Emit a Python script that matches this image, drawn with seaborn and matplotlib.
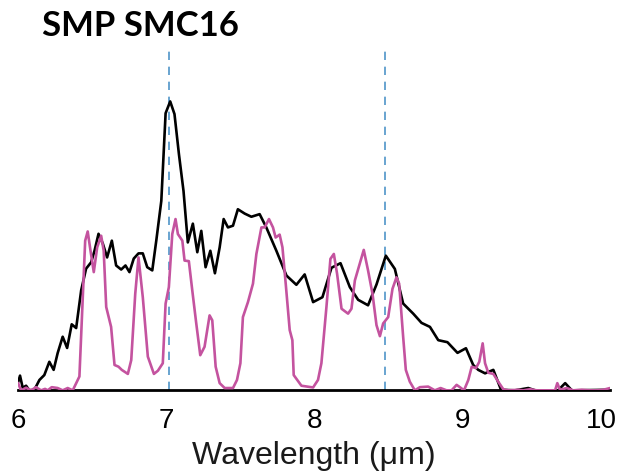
import numpy as np
import pandas as pd
import matplotlib
matplotlib.use("Agg")
import matplotlib.pyplot as plt
import matplotlib.transforms as mtransforms
import seaborn as sns

# observed spectrum (black)
obs_wl = [6.000, 6.014, 6.032, 6.055, 6.077, 6.111, 6.145, 6.178, 6.212, 6.241,
          6.268, 6.302, 6.332, 6.363, 6.393, 6.427, 6.460, 6.494, 6.517, 6.544,
          6.573, 6.602, 6.634, 6.663, 6.697, 6.726, 6.753, 6.782, 6.814, 6.843,
          6.873, 6.907, 6.934, 6.968, 6.997, 7.028, 7.057, 7.087, 7.118, 7.147,
          7.181, 7.211, 7.238, 7.267, 7.299, 7.330, 7.362, 7.389, 7.418, 7.452,
          7.485, 7.531, 7.576, 7.632, 7.677, 7.745, 7.813, 7.880, 7.936, 7.993,
          8.056, 8.117, 8.178, 8.241, 8.297, 8.364, 8.421, 8.484, 8.545, 8.601,
          8.669, 8.725, 8.782, 8.838, 8.900, 8.968, 9.025, 9.074, 9.108, 9.154,
          9.210, 9.262, 9.356, 9.446, 9.492, 9.647, 9.695, 9.740, 10.000]
obs_flux = [0.026, 0.051, 0.009, 0.016, 0.000, 0.002, 0.036, 0.053, 0.099, 0.071,
            0.129, 0.186, 0.147, 0.229, 0.216, 0.347, 0.422, 0.444, 0.484, 0.543,
            0.509, 0.461, 0.519, 0.433, 0.419, 0.433, 0.410, 0.457, 0.475, 0.475,
            0.427, 0.416, 0.519, 0.657, 0.961, 1.002, 0.958, 0.819, 0.691, 0.513,
            0.578, 0.479, 0.553, 0.427, 0.484, 0.406, 0.496, 0.594, 0.565, 0.571,
            0.628, 0.613, 0.602, 0.611, 0.565, 0.484, 0.398, 0.366, 0.402, 0.306,
            0.323, 0.425, 0.441, 0.358, 0.314, 0.295, 0.367, 0.467, 0.421, 0.301,
            0.266, 0.234, 0.220, 0.174, 0.167, 0.130, 0.146, 0.088, 0.071, 0.059,
            0.071, 0.002, 0.000, 0.008, 0.000, 0.000, 0.025, 0.000, 0.002]

# model spectrum (magenta)
mod_wl = [6.000, 6.021, 6.055, 6.089, 6.122, 6.156, 6.183, 6.201, 6.228, 6.268,
          6.302, 6.336, 6.370, 6.415, 6.437, 6.454, 6.471, 6.490, 6.512, 6.535,
          6.562, 6.579, 6.596, 6.629, 6.652, 6.679, 6.701, 6.742, 6.765, 6.792,
          6.814, 6.843, 6.877, 6.918, 6.945, 6.978, 6.997, 7.019, 7.042, 7.064,
          7.080, 7.110, 7.125, 7.154, 7.177, 7.204, 7.231, 7.260, 7.294, 7.312,
          7.335, 7.362, 7.396, 7.452, 7.479, 7.502, 7.519, 7.553, 7.587, 7.610,
          7.644, 7.666, 7.695, 7.722, 7.740, 7.767, 7.786, 7.808, 7.835, 7.853,
          7.862, 7.914, 7.993, 8.026, 8.049, 8.083, 8.110, 8.133, 8.155, 8.185,
          8.229, 8.252, 8.275, 8.308, 8.335, 8.364, 8.394, 8.421, 8.444, 8.466,
          8.500, 8.529, 8.556, 8.574, 8.601, 8.619, 8.646, 8.680, 8.714, 8.770,
          8.815, 8.854, 8.894, 8.928, 8.962, 8.984, 9.012, 9.041, 9.064, 9.093,
          9.115, 9.138, 9.154, 9.176, 9.210, 9.243, 9.277, 9.311, 9.379, 9.413,
          9.458, 9.503, 9.571, 9.627, 9.642, 9.660, 9.706, 9.750, 9.807, 9.863,
          9.909, 9.953, 9.998]
mod_flux = [0.026, 0.000, 0.009, 0.000, 0.011, 0.000, 0.005, 0.000, 0.011, 0.008,
            0.000, 0.008, 0.000, 0.048, 0.312, 0.519, 0.551, 0.484, 0.410, 0.496,
            0.536, 0.484, 0.289, 0.220, 0.088, 0.082, 0.071, 0.057, 0.105, 0.335,
            0.461, 0.323, 0.117, 0.057, 0.068, 0.094, 0.301, 0.358, 0.542, 0.594,
            0.542, 0.519, 0.450, 0.448, 0.347, 0.232, 0.122, 0.151, 0.260, 0.243,
            0.082, 0.025, 0.008, 0.008, 0.036, 0.094, 0.254, 0.306, 0.370, 0.473,
            0.565, 0.565, 0.594, 0.565, 0.530, 0.540, 0.496, 0.370, 0.209, 0.174,
            0.053, 0.016, 0.010, 0.036, 0.094, 0.289, 0.456, 0.473, 0.404, 0.283,
            0.266, 0.283, 0.381, 0.439, 0.487, 0.416, 0.335, 0.226, 0.188, 0.232,
            0.254, 0.352, 0.392, 0.370, 0.186, 0.071, 0.030, 0.000, 0.011, 0.013,
            0.000, 0.008, 0.000, 0.000, 0.019, 0.011, 0.000, 0.036, 0.082, 0.077,
            0.099, 0.163, 0.094, 0.061, 0.057, 0.030, 0.004, 0.000, 0.002, 0.000,
            0.004, 0.000, 0.000, 0.000, 0.025, 0.002, 0.008, 0.000, 0.002, 0.000,
            0.000, 0.002, 0.008]

band_lines = [7.02, 8.48]
xticks = [6, 7, 8, 9, 10]

sns.set_style("white")
plt.rcParams['font.family'] = ['Liberation Sans', 'DejaVu Sans']
plt.rcParams['text.color'] = 'black'

fig = plt.figure(figsize=(6.19, 4.72), dpi=100)
ax = fig.add_axes([0.029, 0.173, 0.957, 0.727])

for xv in band_lines:
    ax.axvline(xv, color='#4f95c8', lw=1.2, ls=(0, (5, 4)), zorder=1)

df_obs = pd.DataFrame({'wl': obs_wl, 'flux': obs_flux})
df_mod = pd.DataFrame({'wl': mod_wl, 'flux': mod_flux})
sns.lineplot(data=df_obs, x='wl', y='flux', color='black', lw=1.9, ax=ax, zorder=3)
sns.lineplot(data=df_mod, x='wl', y='flux', color='#c4539f', lw=1.9, ax=ax, zorder=4)

ax.set_xlim(6, 10)
ax.set_ylim(0, 1.19)
ax.set_xticks(xticks)
ax.set_xticklabels([str(t) for t in xticks], fontsize=20, color='black')
ax.set_yticks([])
ax.set_ylabel('')
ax.set_xlabel('Wavelength (μm)', fontsize=23, labelpad=5, color='#1a1a1a')
for s in ['left', 'right', 'top']:
    ax.spines[s].set_visible(False)
ax.spines['bottom'].set_color('black')
ax.spines['bottom'].set_linewidth(2)
ax.tick_params(axis='x', direction='inout', length=5, width=1, pad=10, colors='black')

# last label sits against the figure edge, shifted left
lbl = ax.get_xticklabels()[-1]
lbl.set_transform(lbl.get_transform() + mtransforms.ScaledTranslation(-9 / 100, 0, fig.dpi_scale_trans))

fig.text(0.068, 0.978, 'SMP SMC16', fontsize=25, fontweight='bold', color='black',
         family=['Lato', 'DejaVu Sans'], va='top', ha='left')

fig.savefig('out.png', dpi=100)
